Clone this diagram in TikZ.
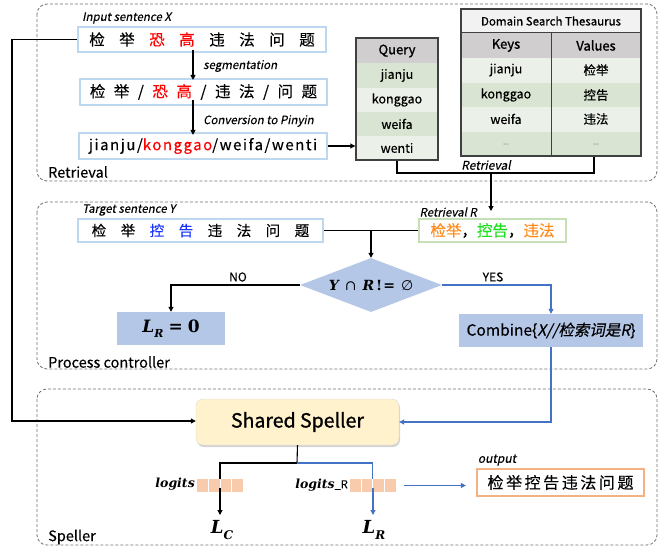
\documentclass[tikz,border=0pt]{standalone}
\usepackage[no-math]{fontspec}
\usepackage{amsmath,amssymb}
\usetikzlibrary{shapes.geometric,shadows,arrows.meta}
\setmainfont{Noto Sans CJK SC}[FakeBold=0.3,ItalicFont={Noto Sans CJK SC},ItalicFeatures={FakeSlant=0.2,FakeBold=0.3}]
\newfontfamily\mser{DejaVu Serif}
\newfontfamily\dsans{DejaVu Sans}
\newcommand\fsz[1]{\fontsize{#1}{#1}\selectfont}
\newcommand\hb{\addfontfeature{FakeBold=1.2}}
\newcommand\gapA{\hspace{14.5pt}}
\newcommand\gapB{\hspace{8.5pt}}
\newcommand\mbi[1]{{\mser\bfseries\itshape #1}}
\newcommand\msub[2]{\raisebox{-0.3em}{\fsz{#1}\mser\bfseries\itshape #2}}
\definecolor{lblue}{HTML}{BDD7EE}
\definecolor{bfill}{HTML}{B4C7E7}
\definecolor{bline}{HTML}{4472C4}
\definecolor{tgray}{HTML}{D0CECE}
\definecolor{tgreen}{HTML}{D9E5D2}
\definecolor{tlight}{HTML}{EBF0E8}
\definecolor{tedge}{HTML}{404040}
\definecolor{peach}{HTML}{F8CBAD}
\definecolor{peachedge}{HTML}{F4B183}
\definecolor{ygreen}{HTML}{C5E0B4}
\definecolor{orangetxt}{HTML}{FF8C1A}
\definecolor{greentxt}{HTML}{1FE01F}
\definecolor{bluetxt}{HTML}{1A33FF}
\definecolor{dashgray}{HTML}{707070}
\definecolor{spfill}{HTML}{FFF2CC}
\begin{document}
\begin{tikzpicture}[x=1pt,y=-1pt,
  section/.style={draw=dashgray,line width=0.8pt,dash pattern=on 3pt off 2pt,rounded corners=10pt},
  sentbox/.style={draw=lblue,line width=2.2pt,fill=white,inner sep=0pt},
  tag/.style={font=\fsz{11.5}\itshape,inner sep=0pt},
  seclabel/.style={font=\fsz{14.5},anchor=west,inner sep=0pt},
  cell/.style={inner sep=0pt,font=\fsz{12.5}},
  conn/.style={line width=1.1pt,draw=black},
  bconn/.style={line width=1.1pt,draw=bline},
  arr/.style={-{Triangle[length=5pt,width=5pt]}},
  bluebox/.style={fill=bfill,inner sep=0pt},
  lcell/.style={fill=peach,inner sep=0pt,minimum width=46pt,minimum height=13pt}
]
\useasboundingbox (0,0) rectangle (658,548);
% sections
\draw[section] (37,4) rectangle (657,181);
\draw[section] (37,202) rectangle (657,369);
\draw[section] (37,389) rectangle (657,545);
\node[seclabel] (secR) at (48,172) {Retrieval};
\node[seclabel] (secP) at (48,362) {Process controller};
\node[seclabel] (secS) at (48,537) {Speller};

% retrieval sentences
\node[tag,anchor=west] (inlab) at (82,18) {Input sentence X};
\node[sentbox,minimum width=248pt,minimum height=25pt,font=\fsz{15.5}] (inbox) at (202,39.5)
  {检\gapA 举\gapA \textcolor{red}{恐}\gapA \textcolor{red}{高}\gapA 违\gapA 法\gapA 问\gapA 题};
\node[sentbox,minimum width=247pt,minimum height=26pt,font=\fsz{15.5}] (segbox) at (203.5,92)
  {检\gapB 举\gapB /\gapB \textcolor{red}{恐}\gapB \textcolor{red}{高}\gapB /\gapB 违\gapB 法\gapB /\gapB 问\gapB 题};
\node[sentbox,minimum width=248pt,minimum height=26pt,font=\fsz{15}\addfontfeature{LetterSpace=10}] (pinbox) at (203,146)
  {jianju/\textcolor{red}{konggao}/weifa/wenti};
\draw[conn,arr] ([xshift=-9pt,yshift=3pt]inbox.south) -- ([xshift=-10.5pt,yshift=-2pt]segbox.north);
\node[tag,anchor=west] (seglab) at (203,66) {segmentation};
\draw[conn,arr] ([xshift=-10.5pt,yshift=6pt]segbox.south) -- ([xshift=-10pt,yshift=-3pt]pinbox.north);
\node[tag,anchor=west] (convlab) at (203,121) {Conversion to Pinyin};

% query table
\fill[tgray] (356,38) rectangle (438,63);
\fill[tgreen] (356,63) rectangle (438,88);
\fill[tlight] (356,88) rectangle (438,112);
\fill[tgreen] (356,112) rectangle (438,136);
\fill[tlight] (356,136) rectangle (438,160);
\node[draw=tedge,line width=1.4pt,minimum width=82pt,minimum height=122pt,inner sep=0pt] (q) at (397,99) {};
\node[cell,font=\fsz{13}\hb] (qh) at (397,51) {Query};
\node[cell] (q1) at (397,75.5) {jianju};
\node[cell] (q2) at (397,100) {konggao};
\node[cell] (q3) at (397,124) {weifa};
\node[cell] (q4) at (397,148) {wenti};
\draw[conn,arr] (pinbox.east) -- (pinbox.east -| q.west);

% thesaurus
\fill[white!95!black] (461,9) rectangle (641,33);
\fill[tgray] (461,33) rectangle (641,58);
\fill[tlight] (461,58) rectangle (641,83);
\fill[tgreen] (461,83) rectangle (641,107);
\fill[tlight] (461,107) rectangle (641,132);
\fill[tgreen] (461,132) rectangle (641,156);
\draw[tedge,line width=1pt] (461,33) -- (641,33);
\draw[tedge,line width=1pt] (551,33) -- (551,156);
\node[draw=tedge,line width=1.4pt,minimum width=180pt,minimum height=147pt,inner sep=0pt] (thes) at (551,82.5) {};
\node[cell,font=\fsz{11.5}\addfontfeature{FakeBold=0.8}] (th) at (551,21) {Domain Search Thesaurus};
\node[cell,font=\fsz{13}\hb] (tk) at (506,45.5) {Keys};
\node[cell,font=\fsz{13}\hb] (tv) at (596,45.5) {Values};
\node[cell] (k1) at (506,70) {jianju};
\node[cell] (k2) at (506,95) {konggao};
\node[cell] (k3) at (506,119) {weifa};
\node[cell,text=gray,font=\fsz{7}] (k4) at (506,144) {...};
\node[cell] (v1) at (596,70) {检举};
\node[cell] (v2) at (596,95) {控告};
\node[cell] (v3) at (596,119) {违法};
\node[cell,text=gray,font=\fsz{7}] (v4) at (596,144) {...};
\coordinate (rq) at (397,173);
\coordinate (rt) at (594,173);
\coordinate (rj) at (491,173);
\draw[conn] (q.south) -- (rq) -- (rt) -- (rt |- thes.south);
\node[tag,font=\fsz{12}\itshape] (retlab) at (486,165) {Retrieval};

% process controller
\node[tag,anchor=west] (tgtlab) at (82,210) {Target sentence Y};
\node[sentbox,minimum width=245pt,minimum height=23pt,font=\fsz{14.5}] (tgt) at (200.5,230.5)
  {检\gapA 举\gapA \textcolor{bluetxt}{控}\gapA \textcolor{bluetxt}{告}\gapA 违\gapA 法\gapA 问\gapA 题};
\node[draw=ygreen,line width=2.2pt,fill=white,minimum width=147pt,minimum height=23pt,inner sep=0pt,font=\fsz{15.5}] (retr) at (492.5,230.5)
  {\textcolor{orangetxt}{检举}，\textcolor{greentxt}{控告}，\textcolor{orangetxt}{违法}};
\node[tag,anchor=east] (retrlab) at (477,212) {Retrieval R};
\draw[conn,arr] (rj) -- (491,211);
\draw[conn] (tgt.east) -- (retr.west);
\node[diamond,fill=bfill,minimum width=142pt,minimum height=54pt,inner sep=0pt,aspect=2.6,font=\fsz{14}] (dia) at (371,285)
  {\mbi{Y}\hspace{6pt}{\mser ∩}\hspace{6pt}\mbi{R}\hspace{2pt}{\mser\bfseries !\hspace{1pt}=}\hspace{6pt}{\dsans ∅}};
\coordinate (tj) at (371,230.5);
\draw[conn,arr] (tj) -- (dia.north);
\node[bluebox,minimum width=108pt,minimum height=33pt,font=\fsz{17}] (lr0) at (171,328.5) {\mbi{L}\msub{11}{R}\hspace{5pt}{\mser\bfseries =\hspace{5pt}0}};
\node[bluebox,minimum width=184pt,minimum height=33pt,font=\fsz{15.5}] (comb) at (551,330.5) {Combine\{\textit{X//检索词是R}\}};
\draw[conn,arr] (dia.west) -| (lr0.north);
\node[inner sep=0pt,font=\fsz{12}] (nolab) at (238,277) {NO};
\draw[bconn,arr] (dia.east) -| (comb.north);
\node[inner sep=0pt,font=\fsz{12}] (yeslab) at (493,277) {YES};

% speller
\node[fill=spfill,draw=white!85!black,line width=0.4pt,rounded corners=7pt,minimum width=203pt,minimum height=46pt,
      drop shadow={opacity=0.35,shadow xshift=1pt,shadow yshift=-2pt},font=\fsz{19.5}\addfontfeature{FakeBold=1}] (speller) at (297.5,422) {Shared Speller};
\coordinate (lt) at (12,39.5);
\coordinate (lb) at (12,421);
\draw[conn,arr] (inbox.west) -- (lt) -- (lb) -- (lb -| speller.west);
\draw[bconn,arr] (comb.south) |- (speller.east);
\node[lcell] (lg) at (220,485.5) {};
\node[lcell] (lgr) at (372.5,485.5) {};
\foreach \xx in {208.5,220,231.5} \draw[white,line width=1pt] (\xx,479) -- (\xx,492);
\foreach \xx in {361,372.5,384} \draw[white,line width=1pt] (\xx,479) -- (\xx,492);
\node[inner sep=0pt,anchor=east,font=\fsz{12.5}] (lglab) at (195,484) {\mbi{logits}};
\node[inner sep=0pt,anchor=east,font=\fsz{12.5}] (lgrlab) at (348,485) {\mbi{logits}\fsz{11}\_R};
\coordinate (sj) at (297,463);
\draw[conn] (speller.south) -- (sj);
\draw[conn] (sj) -| (lg.north);
\draw[bconn] (sj) -| (lgr.north);
\node[inner sep=0pt,font=\fsz{18}] (LC) at (222,530) {\mbi{L}\msub{12}{C}};
\node[inner sep=0pt,font=\fsz{18}] (LR) at (374,530) {\mbi{L}\msub{12}{R}};
\coordinate (lce) at (220,515);
\coordinate (lre) at (373,515);
\draw[conn,arr] ([yshift=4pt]lg.south) -- (lce);
\draw[bconn,arr] ([xshift=0.5pt,yshift=4pt]lgr.south) -- (lre);
\node[draw=peachedge,line width=2.2pt,fill=white,minimum width=167pt,minimum height=27pt,inner sep=0pt,font=\fsz{16}\addfontfeature{LetterSpace=16}] (out) at (560.5,482.5) {检举控告违法问题};
\node[tag,font=\fsz{12}\itshape] (outlab) at (497,460) {output};
\draw[bconn,arr,shorten <=8pt,shorten >=10pt] (lgr.east) -- (lgr.east -| out.west);
\end{tikzpicture}
\end{document}
